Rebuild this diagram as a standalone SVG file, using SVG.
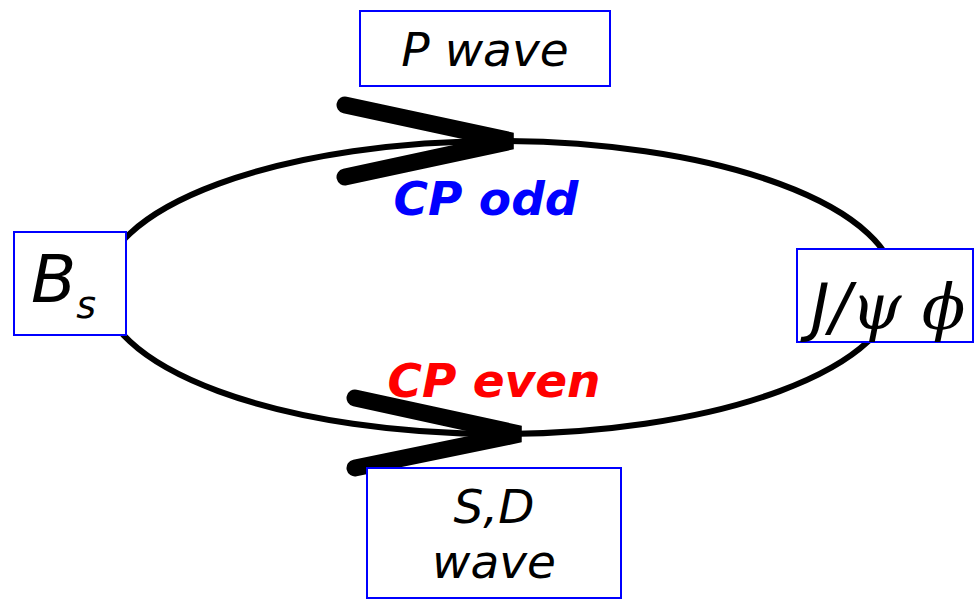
<svg xmlns="http://www.w3.org/2000/svg" width="980" height="605" viewBox="0 0 980 605">
<style>
.box{fill:#fff;stroke:#0000ff;stroke-width:2}
.t{font-family:"DejaVu Sans",sans-serif;font-style:italic;fill:#000}
.g{font-family:"DejaVu Serif",serif;font-style:italic}
.cp{font-family:"DejaVu Sans",sans-serif;font-style:italic;font-weight:bold;font-size:47px}
.arr{stroke:#000;stroke-width:17;stroke-linecap:round;fill:none}
</style>
<rect width="980" height="605" fill="#fff"/>
<g id="connectors">
<ellipse cx="499" cy="287.5" rx="397" ry="146.5" fill="none" stroke="#000" stroke-width="6"/>
<path class="arr" d="M345,105 L512,141 L345,177"/>
<path class="arr" d="M355,398 L520,434 L355,468"/>
</g>
<g id="cp-odd"><text class="cp" x="486" y="215" text-anchor="middle" fill="#0000ff">CP odd</text></g>
<g id="cp-even"><text class="cp" x="494" y="397" text-anchor="middle" fill="#ff0000">CP even</text></g>
<g id="bs">
<rect class="box" x="14" y="232" width="112" height="103"/>
<text class="t" x="31" y="302" font-size="66">B<tspan font-size="38" dy="16">s</tspan></text>
</g>
<g id="jpsiphi">
<rect class="box" x="797" y="249" width="176" height="93"/>
<text class="t" x="888" y="329" font-size="64" text-anchor="middle">J/<tspan class="g">ψ ϕ</tspan></text>
</g>
<g id="pwave">
<rect class="box" x="360" y="11" width="250" height="75"/>
<text class="t" x="485" y="66" font-size="47" text-anchor="middle">P wave</text>
</g>
<g id="sdwave">
<rect class="box" x="367" y="468" width="254" height="130"/>
<text class="t" x="494" y="523" font-size="47" text-anchor="middle">S,D</text>
<text class="t" x="494" y="578" font-size="47" text-anchor="middle">wave</text>
</g>
</svg>
